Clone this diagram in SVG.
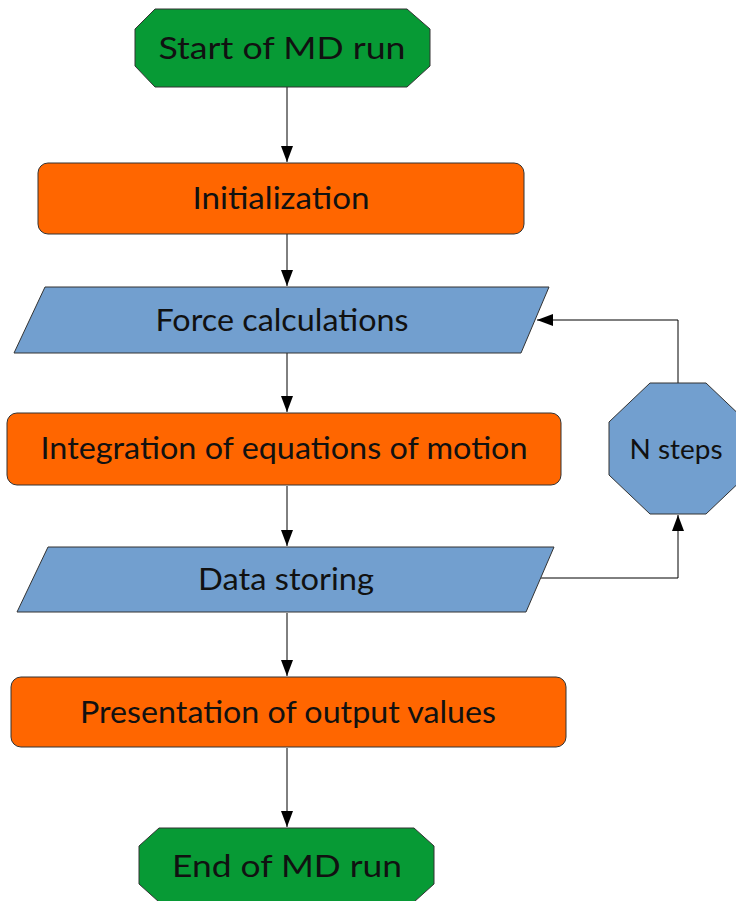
<svg xmlns="http://www.w3.org/2000/svg" width="736" height="901" viewBox="0 0 736 901">
<style>
.green{fill:#079a35;stroke:#333;stroke-width:1}
.orange{fill:#ff6600;stroke:#333;stroke-width:1}
.blue{fill:#729fcf;stroke:#333;stroke-width:1}
.t{font-family:"Lato","Noto Sans",sans-serif;font-size:30px;fill:#111;text-anchor:middle}
.c{fill:none;stroke:#000;stroke-width:1}
</style>
<defs>
<marker id="ah" markerWidth="16" markerHeight="12" refX="16" refY="6" orient="auto" markerUnits="userSpaceOnUse">
<path d="M0,0 L16,6 L0,12 Z" fill="#000"/>
</marker>
</defs>
<rect width="736" height="901" fill="#fff"/>
<g id="connectors">
<line class="c" x1="287" y1="87" x2="287" y2="162" marker-end="url(#ah)"/>
<line class="c" x1="287" y1="234" x2="287" y2="286" marker-end="url(#ah)"/>
<line class="c" x1="287" y1="353" x2="287" y2="412" marker-end="url(#ah)"/>
<line class="c" x1="287" y1="486" x2="287" y2="546" marker-end="url(#ah)"/>
<line class="c" x1="287" y1="613" x2="287" y2="676" marker-end="url(#ah)"/>
<line class="c" x1="287" y1="748" x2="287" y2="827" marker-end="url(#ah)"/>
<polyline class="c" points="678,383 678,320 537,320" marker-end="url(#ah)"/>
<polyline class="c" points="541,578 678,578 678,515" marker-end="url(#ah)"/>
</g>
<g id="start">
<polygon class="green" points="155,9 407,9 430,29 430,66 407,87 155,87 135,66 135,29"/>
<text class="t" x="282" y="59" textLength="247" lengthAdjust="spacingAndGlyphs">Start of MD run</text>
</g>
<g id="init">
<rect class="orange" x="38" y="163" width="486" height="71" rx="10"/>
<text class="t" x="281" y="209" textLength="177" lengthAdjust="spacingAndGlyphs">Initialization</text>
</g>
<g id="force">
<polygon class="blue" points="45,287 549,287 521,353 14,353"/>
<text class="t" x="282" y="331" textLength="253" lengthAdjust="spacingAndGlyphs">Force calculations</text>
</g>
<g id="integration">
<rect class="orange" x="7" y="413" width="554" height="72" rx="10"/>
<text class="t" x="284" y="459" textLength="487" lengthAdjust="spacingAndGlyphs">Integration of equations of motion</text>
</g>
<g id="data">
<polygon class="blue" points="48,547 554,547 526,612 17,612"/>
<text class="t" x="286" y="590" textLength="176" lengthAdjust="spacingAndGlyphs">Data storing</text>
</g>
<g id="nsteps">
<polygon class="blue" points="650,383 706,383 747,422 747,475 706,514 650,514 609,475 609,422"/>
<text class="t" x="676" y="459" textLength="93" lengthAdjust="spacingAndGlyphs" style="font-size:26px">N steps</text>
</g>
<g id="presentation">
<rect class="orange" x="11" y="677" width="555" height="70" rx="10"/>
<text class="t" x="288" y="723" textLength="416" lengthAdjust="spacingAndGlyphs">Presentation of output values</text>
</g>
<g id="end">
<polygon class="green" points="159,828 414,828 434,846 434,884 414,902 159,902 139,884 139,846"/>
<text class="t" x="287" y="877" textLength="230" lengthAdjust="spacingAndGlyphs">End of MD run</text>
</g>
</svg>
